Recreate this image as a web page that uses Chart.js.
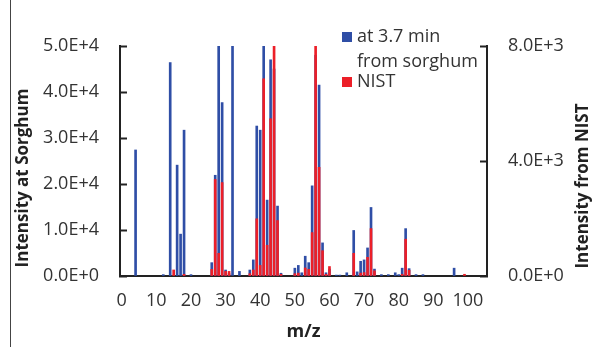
<!DOCTYPE html>
<html>
<head>
<meta charset="utf-8">
<script src="https://cdn.jsdelivr.net/npm/chart.js@4.4.1/dist/chart.umd.min.js"></script>
<style>
    html, body { margin: 0; padding: 0; background: #ffffff; }
    canvas { display: block; }
</style>
</head>
<body>
<canvas id="msChart" width="592" height="347"></canvas>
<script>
// peaks (m/z, intensity); bars above the axis top are estimates
const mzPeaks = [4, 12, 14, 15, 16, 17, 18, 20, 26, 27, 28, 29, 30, 31, 32, 34,
    37, 38, 39, 40, 41, 42, 43, 44, 45, 46, 50, 51, 52, 53, 54, 55,
    56, 57, 58, 59, 60, 62, 63, 65, 67, 68, 69, 70, 71, 72, 73, 75,
    77, 79, 80, 81, 82, 83, 85, 87, 96, 99];
const sorghumIntensity = [27400, 300, 46400, 0, 24100, 9100, 31700, 300, 2900, 21900, 80000, 37700, 1300, 500, 60000, 1000,
    1300, 3500, 32600, 31700, 55000, 16500, 47000, 45000, 15200, 600, 1700, 2300, 700, 4300, 2900, 19600,
    48000, 41500, 7200, 700, 1500, 200, 200, 700, 9900, 900, 3200, 3500, 6100, 14900, 1500, 300,
    300, 700, 300, 1700, 10300, 1600, 300, 300, 1700, 0];
const nistIntensity = [0, 0, 0, 210, 0, 0, 60, 0, 230, 3360, 790, 3250, 160, 160, 0, 0,
    80, 210, 1990, 370, 6860, 1070, 5470, 8000, 1930, 60, 80, 100, 0, 280, 230, 1510,
    8000, 3780, 880, 60, 330, 0, 0, 0, 790, 0, 100, 120, 650, 1650, 180, 0,
    0, 0, 0, 60, 1280, 200, 0, 0, 0, 60];

const mzLast = 105;
const xTickLabels = [0, 10, 20, 30, 40, 50, 60, 70, 80, 90, 100];
const leftTicks = [0, 10000, 20000, 30000, 40000, 50000];
const rightTicks = [0, 4000, 8000];

const sorghumLabel = ['at 3.7 min', 'from sorghum'];
const nistLabel = ['NIST'];

const blue = '#2f4ea6';
const red = '#ec1f28';
const textColor = '#333333';

const mzAxis = Array.from({ length: mzLast + 1 }, (_, i) => i);

function spread(values) {
    return mzAxis.map(m => {
        const k = mzPeaks.indexOf(m);
        return k < 0 || values[k] === 0 ? null : values[k];
    });
}

function sci(v) {
    return Number(v).toExponential(1).replace('e', 'E');
}

Chart.defaults.font.family = '"Open Sans", sans-serif';
Chart.defaults.color = textColor;

// legend, y titles and the figure's left frame edge
const extrasPlugin = {
    id: 'extras',
    afterDraw(chart) {
        const ctx = chart.ctx;
        ctx.save();

        ctx.strokeStyle = '#444';
        ctx.lineWidth = 1;
        ctx.beginPath();
        ctx.moveTo(10.5, 0);
        ctx.lineTo(10.5, 347);
        ctx.stroke();

        ctx.fillStyle = '#222';
        ctx.font = 'bold 17px "Open Sans"';
        ctx.textAlign = 'center';
        ctx.textBaseline = 'middle';
        [['Intensity at Sorghum', 23, 178], ['Intensity from NIST', 583, 186]].forEach(([t, x, y]) => {
            ctx.save();
            ctx.translate(x, y);
            ctx.rotate(-Math.PI / 2);
            ctx.fillText(t, 0, 0);
            ctx.restore();
        });

        ctx.font = '18px "Open Sans"';
        ctx.textAlign = 'left';
        ctx.fillStyle = blue;
        ctx.fillRect(342, 32, 10, 10);
        ctx.fillStyle = red;
        ctx.fillRect(342, 77, 10, 10);
        ctx.fillStyle = textColor;
        ctx.fillText(sorghumLabel[0], 357, 37);
        ctx.fillText(sorghumLabel[1], 357, 62);
        ctx.fillText(nistLabel[0], 357, 82);
        ctx.restore();
    }
};

const axisBorder = { display: true, color: '#222', width: 2 };

new Chart(document.getElementById('msChart'), {
    type: 'bar',
    data: {
        labels: mzAxis,
        datasets: [
            {
                label: nistLabel.join(' '),
                data: spread(nistIntensity),
                backgroundColor: red,
                yAxisID: 'y1',
                barThickness: 2,
                grouped: false,
                order: 1
            },
            {
                label: sorghumLabel.join(' '),
                data: spread(sorghumIntensity),
                backgroundColor: blue,
                yAxisID: 'y',
                barThickness: 2,
                grouped: false,
                order: 2
            }
        ]
    },
    options: {
        responsive: false,
        animation: false,
        layout: { padding: { top: 46, left: 0, right: 0, bottom: 0 } },
        plugins: {
            legend: { display: false },
            tooltip: { enabled: false }
        },
        scales: {
            x: {
                type: 'category',
                grid: { display: true, drawOnChartArea: false, drawTicks: false },
                border: axisBorder,
                ticks: {
                    autoSkip: false,
                    maxRotation: 0,
                    minRotation: 0,
                    padding: 14,
                    font: { size: 18 },
                    callback: (v, i) => xTickLabels.includes(mzAxis[i]) ? String(mzAxis[i]) : ''
                },
                title: {
                    display: true,
                    text: 'm/z',
                    color: '#222',
                    font: { size: 18, weight: 'bold' },
                    padding: { top: 0, bottom: 4 }
                },
                afterFit: s => { s.height = 71; }
            },
            y: {
                position: 'left',
                min: 0,
                max: 50000,
                afterBuildTicks: s => { s.ticks = leftTicks.map(v => ({ value: v })); },
                grid: { drawOnChartArea: false, drawTicks: true, tickLength: -7, tickWidth: 2, tickColor: '#222' },
                border: axisBorder,
                ticks: { padding: 28, font: { size: 18 }, callback: v => sci(v) },
                afterFit: s => { s.width = 120; }
            },
            y1: {
                position: 'right',
                min: 0,
                max: 8000,
                afterBuildTicks: s => { s.ticks = rightTicks.map(v => ({ value: v })); },
                grid: { drawOnChartArea: false, drawTicks: true, tickLength: -7, tickWidth: 2, tickColor: '#222' },
                border: axisBorder,
                ticks: { padding: 28, font: { size: 18 }, callback: v => sci(v) },
                afterFit: s => { s.width = 105; }
            }
        }
    },
    plugins: [extrasPlugin]
});
</script>
</body>
</html>
